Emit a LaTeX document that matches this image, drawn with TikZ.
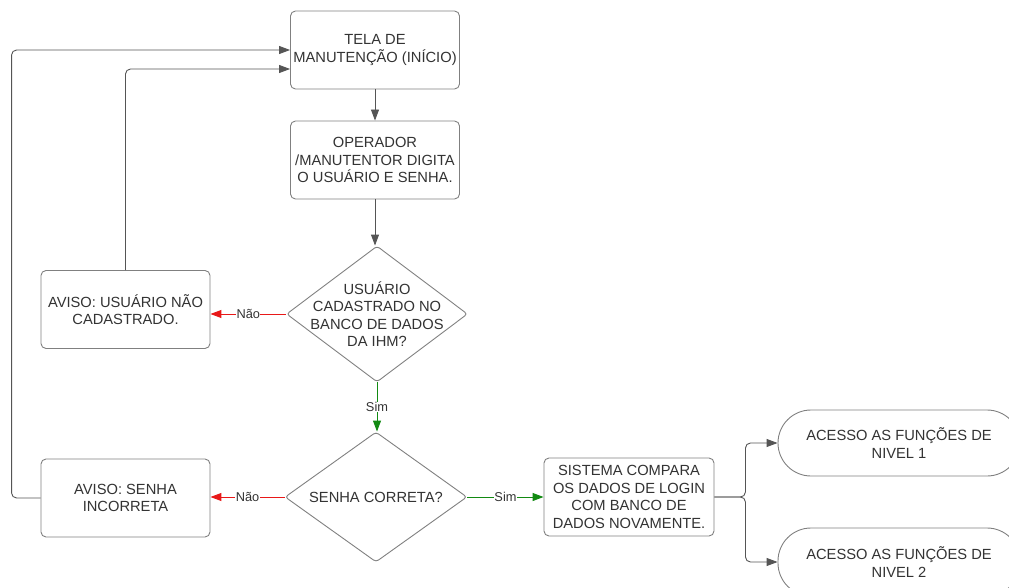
\documentclass[tikz,border=0pt]{standalone}
\usepackage{fontspec}
\setmainfont{Liberation Sans}
\usetikzlibrary{shapes.geometric,arrows.meta,calc}
\definecolor{ink}{HTML}{333333}
\definecolor{edge}{HTML}{808080}
\definecolor{wire}{HTML}{555555}
\definecolor{nored}{HTML}{E81818}
\definecolor{yesgreen}{HTML}{128A12}
\tikzset{
  box/.style={draw=edge, line width=0.9pt, rounded corners=5pt, fill=white,
    minimum width=169pt, minimum height=78pt, inner sep=0pt, align=center,
    text=ink, font=\fontsize{14.7}{17.5}\selectfont},
  dec/.style={draw=edge, line width=0.9pt, shape=diamond, rounded corners=3pt,
    inner sep=0pt, fill=white},
  dectext/.style={align=center, text=ink, inner sep=0pt,
    font=\fontsize{14.7}{17.5}\selectfont},
  term/.style={draw=edge, line width=0.9pt, rounded corners=33pt, fill=white,
    minimum width=242pt, inner sep=0pt, align=center, text=ink,
    font=\fontsize{14.7}{17.5}\selectfont},
  conn/.style={draw=wire, line width=0.9pt, rounded corners=5pt,
    -{Triangle[length=11pt,width=8pt]}},
  nao/.style={draw=nored, line width=1pt, -{Triangle[length=11pt,width=8pt]}},
  sim/.style={draw=yesgreen, line width=1pt, -{Triangle[length=11pt,width=8pt]}},
  tag/.style={fill=white, text=ink, inner sep=0.5pt, font=\fontsize{12.8}{14}\selectfont},
}
\begin{document}
\begin{tikzpicture}[x=1pt,y=-1pt]
\useasboundingbox (0,0) rectangle (1009,588);
\clip (0,0) rectangle (1009,588);

% main column
\node[box] (inicio) at (375,50) {TELA DE\\MANUTENÇÃO (INÍCIO)};
\node[box] (digita) at (375,160) {OPERADOR\\/MANUTENTOR DIGITA\\O USUÁRIO E SENHA.};
\node[dec, minimum width=181pt, minimum height=136pt] (cad) at (377,314) {};
\node[dectext] (cadtxt) at (cad) {USUÁRIO\\CADASTRADO NO\\BANCO DE DADOS\\DA IHM?};
\node[dec, minimum width=182pt, minimum height=130pt] (senha) at (376,497) {};
\node[dectext] (senhatxt) at (senha) {SENHA CORRETA?};

% warning boxes
\node[box] (avisoA) at (125.5,309.5) {AVISO: USUÁRIO NÃO\\CADASTRADO.};
\node[box] (avisoB) at (125.5,498) {AVISO: SENHA\\INCORRETA};

% comparison and access levels
\node[box, minimum width=170pt] (compara) at (629,497) {SISTEMA COMPARA\\OS DADOS DE LOGIN\\COM BANCO DE\\DADOS NOVAMENTE.};
\node[term, minimum height=66pt] (nivel1) at (899,443) {ACESSO AS FUNÇÕES DE\\NIVEL 1};
\node[term, minimum height=68pt] (nivel2) at (899,562) {ACESSO AS FUNÇÕES DE\\NIVEL 2};

% flow
\draw[conn] (inicio.south) -- (digita.north);
\draw[conn] (digita.south) -- (digita.south |- cad.north);
\draw[sim] (cad.south) -- node[tag]{Sim} (cad.south |- senha.north);
\draw[nao] (cad.west) -- node[tag]{Não} (cad.west -| avisoA.east);
\draw[nao] (senha.west) -- node[tag]{Não} (senha.west -| avisoB.east);
\draw[sim] (senha.east) -- node[tag]{Sim} (senha.east -| compara.west);

% branches to the access levels
\coordinate (split) at ($(compara.east)+(31,0)$);
\draw[conn] (compara.east) -- (split) |- (nivel1.west);
\draw[conn] (compara.east) -- (split) |- (nivel2.west);

% return paths to the start screen
\draw[conn] (avisoA.north) |- ([yshift=-19pt]inicio.west);
\draw[conn] (avisoB.west) -- ++(-29,0) |- (inicio.west);
\end{tikzpicture}
\end{document}
